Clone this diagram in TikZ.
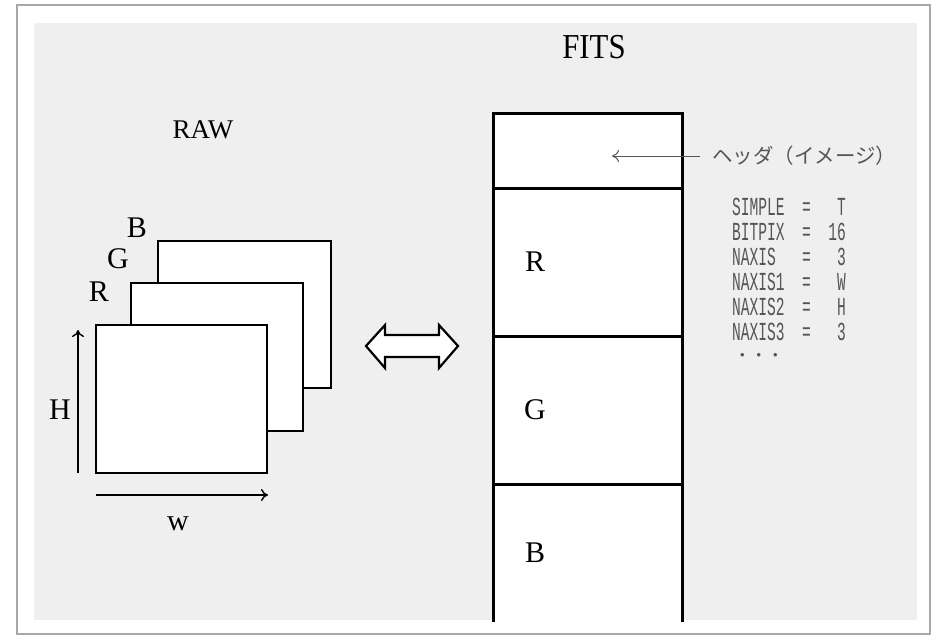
\documentclass[tikz,border=0pt]{standalone}
\usepackage{fontspec}
\usetikzlibrary{arrows.meta}
\setmainfont{Liberation Serif}
\newfontfamily\jp{Noto Sans CJK JP}
\newfontfamily\mono[FakeStretch=0.56]{Liberation Mono}
\definecolor{bgfill}{HTML}{EFEFEF}
\definecolor{framec}{HTML}{A8A8A8}
\definecolor{annot}{HTML}{555555}
\begin{document}
\begin{tikzpicture}[x=1pt,y=-1pt,
  plane/.style={draw=black,line width=2.8pt,fill=white,inner sep=0pt,outer sep=0pt},
  fitsbox/.style={draw=black,line width=3pt,fill=white,inner sep=0pt,outer sep=0pt,minimum width=189pt},
  bigletter/.style={font=\fontsize{30}{32}\selectfont,inner sep=0pt},
  dimarrow/.style={draw=black,line width=1.4pt,-{To[length=7pt,width=12pt]}},
  annotarrow/.style={draw=annot,line width=1pt,-{To[length=7pt,width=12pt]}}
]
\useasboundingbox (0,0) rectangle (939,637);
% background
\fill[white] (0,0) rectangle (939,637);
\draw[framec,line width=1.5pt,fill=white] (17,5) rectangle (930,634);
\fill[bgfill] (34,23) rectangle (917,620);

% titles
\node[font=\fontsize{27}{29}\selectfont,inner sep=0pt] (raw) at (203,130) {RAW};
\node[font=\fontsize{35}{37}\selectfont,inner sep=0pt,xscale=0.88] (fits) at (594,47) {FITS};

% RAW planes
\node[plane,minimum width=173pt,minimum height=147pt] (pB) at (244.5,314.5) {};
\node[plane,minimum width=172pt,minimum height=148pt] (pG) at (217,357) {};
\node[plane,minimum width=171pt,minimum height=148pt] (pR) at (181.5,399) {};
\node[bigletter] (lB) at (137,228) {B};
\node[bigletter] (lG) at (118,259) {G};
\node[bigletter] (lR) at (99,292) {R};
\node[bigletter] (lH) at (60,410) {H};
\node[bigletter] (lw) at (178,524) {w};
\coordinate (hs) at (78,473);
\coordinate (he) at (78,330);
\coordinate (ws) at (96,495);
\coordinate (we) at (268,495);
\draw[dimarrow] (hs) -- (he);
\draw[dimarrow] (ws) -- (we);

% double arrow
\draw[black,line width=2.2pt,fill=white,line join=miter]
  (366,346) -- (385,325) -- (385,335) -- (439,335) -- (439,325) -- (458,346)
  -- (439,368) -- (439,357) -- (385,357) -- (385,368) -- cycle;

% FITS column
\fill[white] (493,113) rectangle (682,622);
\node[fitsbox,minimum height=75pt] (hdrbox) at (587.5,150.5) {};
\node[fitsbox,minimum height=148pt] (rbox) at (587.5,262) {};
\node[fitsbox,minimum height=148pt] (gbox) at (587.5,410) {};
\coordinate (bl) at (493,622);
\coordinate (br) at (682,622);
\draw[black,line width=3pt] (bl) -- (gbox.south west) -- (gbox.south east) -- (br);
\node[bigletter] (fR) at (535,262) {R};
\node[bigletter] (fG) at (535,410) {G};
\node[bigletter] (fB) at (535,553) {B};

% header annotation
\node[font=\jp\fontsize{20.5}{22}\selectfont,text=annot,inner sep=0pt,anchor=west] (hdr) at (712,156) {ヘッダ（イメージ）};
\coordinate (htip) at (612,156);
\draw[annotarrow] ([xshift=-12pt]hdr.west) -- (htip);

% keyword list
\node[font=\mono\fontsize{26}{25}\selectfont,text=annot,inner sep=0pt,anchor=north west,align=left] (kw) at (732,198)
{SIMPLE~~=~~~T\\BITPIX~~=~~16\\NAXIS~~~=~~~3\\NAXIS1~~=~~~W\\NAXIS2~~=~~~H\\NAXIS3~~=~~~3};
\node[font=\jp\fontsize{16.5}{18}\selectfont,text=annot,inner sep=0pt,anchor=west] (dots) at (734,357) {・・・};
\end{tikzpicture}
\end{document}
